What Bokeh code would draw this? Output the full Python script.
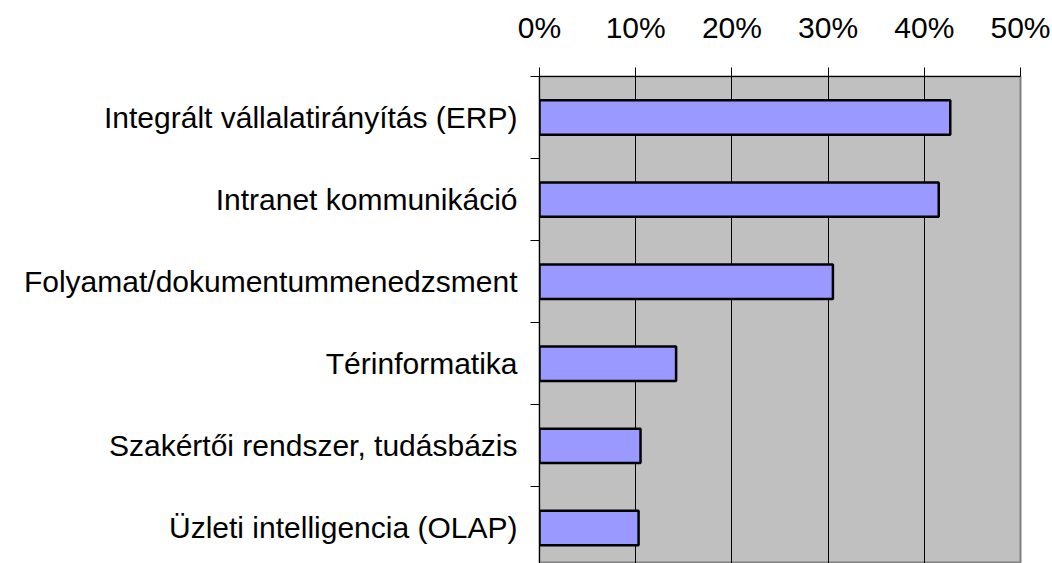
from bokeh.plotting import figure
from bokeh.models import Range1d, FixedTicker, PrintfTickFormatter, LinearAxis
from bokeh.embed import file_html
from bokeh.resources import INLINE

categories = [
    "Integrált vállalatirányítás (ERP)",
    "Intranet kommunikáció",
    "Folyamat/dokumentummenedzsment",
    "Térinformatika",
    "Szakértői rendszer, tudásbázis",
    "Üzleti intelligencia (OLAP)",
]
values = [42.7, 41.5, 30.5, 14.2, 10.5, 10.3]
x_ticks = [0, 10, 20, 30, 40, 50]

n = len(categories)
centers = [n - 0.5 - i for i in range(n)]
boundaries = list(range(1, n + 1))

FONT = "Liberation Sans"
FS = "30px"

p = figure(
    width=1052, height=563,
    x_range=Range1d(0, 50),
    y_range=Range1d(6 - (563 - 76.5) / 82.0, 6),
    output_backend="svg", toolbar_location=None,
    x_axis_location=None, y_axis_location=None,
    min_border_left=539, min_border_right=32, min_border_top=76, min_border_bottom=0,
)
p.background_fill_color = "#C0C0C0"
p.border_fill_color = "white"
p.outline_line_color = "#808080"
p.outline_line_width = 2

# top axis
xa = LinearAxis(ticker=FixedTicker(ticks=x_ticks), formatter=PrintfTickFormatter(format="%d%%"))
xa.major_tick_out = 9
xa.major_tick_in = 0
xa.minor_tick_line_color = None
xa.axis_line_color = "black"
xa.major_tick_line_color = "black"
xa.major_label_text_font = FONT
xa.major_label_text_font_size = FS
xa.major_label_text_color = "black"
xa.major_label_standoff = 24
p.add_layout(xa, "above")

# left axis
ya = LinearAxis(ticker=FixedTicker(ticks=centers, minor_ticks=boundaries))
ya.major_label_overrides = {c: lab for c, lab in zip(centers, categories)}
ya.major_tick_line_color = None
ya.major_tick_out = 0
ya.major_tick_in = 0
ya.minor_tick_out = 9
ya.minor_tick_in = 0
ya.minor_tick_line_color = "black"
ya.axis_line_color = "black"
ya.major_label_text_font = FONT
ya.major_label_text_font_size = FS
ya.major_label_text_color = "black"
ya.major_label_standoff = 13
p.add_layout(ya, "left")

p.xgrid.ticker = FixedTicker(ticks=[10, 20, 30, 40])
p.xgrid.grid_line_color = "black"
p.xgrid.grid_line_width = 1
p.ygrid.grid_line_color = None

p.hbar(y=centers, right=values, left=0, height=0.42,
       fill_color="#9999FF", line_color="black", line_width=2.5)

open("out.html", "w").write(file_html(p, INLINE))
